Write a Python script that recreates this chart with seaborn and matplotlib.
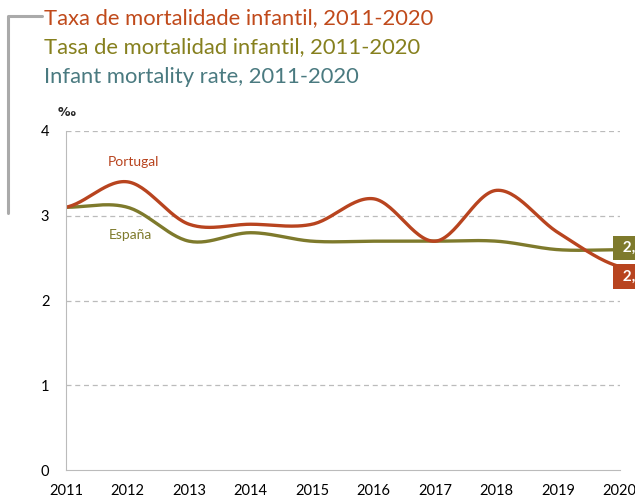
import numpy as np
import pandas as pd
import matplotlib.pyplot as plt
import seaborn as sns

years = [2011, 2012, 2013, 2014, 2015, 2016, 2017, 2018, 2019, 2020]
portugal = [3.1, 3.4, 2.9, 2.9, 2.9, 3.2, 2.7, 3.3, 2.8, 2.4]
espana = [3.1, 3.1, 2.7, 2.8, 2.7, 2.7, 2.7, 2.7, 2.6, 2.6]
last_labels = ["2,6", "2,4"]

titles = ["Taxa de mortalidade infantil, 2011-2020",
          "Tasa de mortalidad infantil, 2011-2020",
          "Infant mortality rate, 2011-2020"]
title_colors = ["#C04A1B", "#86801E", "#4A7A80"]

red = "#B8441F"
olive = "#7E7A2C"


def smooth(x, y, n=30):
    # catmull-rom style curve, like Excel's smoothed lines
    x = np.asarray(x, float)
    y = np.asarray(y, float)
    px = np.concatenate([[2 * x[0] - x[1]], x, [2 * x[-1] - x[-2]]])
    py = np.concatenate([[y[0]], y, [y[-1]]])
    xs, ys = [], []
    for i in range(1, len(px) - 2):
        t = np.linspace(0, 1, n, endpoint=False)
        for p, out in ((px, xs), (py, ys)):
            p0, p1, p2, p3 = p[i - 1], p[i], p[i + 1], p[i + 2]
            out.extend(0.5 * ((2 * p1) + (-p0 + p2) * t
                              + (2 * p0 - 5 * p1 + 4 * p2 - p3) * t ** 2
                              + (-p0 + 3 * p1 - 3 * p2 + p3) * t ** 3))
    xs.append(x[-1])
    ys.append(y[-1])
    return xs, ys


rows = []
for name, vals in (("Portugal", portugal), ("España", espana)):
    sx, sy = smooth(years, vals)
    rows.append(pd.DataFrame({"year": sx, "value": sy, "country": name}))
df = pd.concat(rows)

sns.set_style("white")
plt.rcParams["font.family"] = ["Lato", "DejaVu Sans"]

fig = plt.figure(figsize=(6.35, 4.98), dpi=100)
ax = fig.add_axes([0.104, 0.056, 0.872, 0.681])

sns.lineplot(data=df, x="year", y="value", hue="country",
             palette={"Portugal": red, "España": olive},
             hue_order=["España", "Portugal"],
             linewidth=2.4, legend=False, ax=ax, sort=False)

ax.set_xlim(2011, 2020)
ax.set_ylim(0, 4)
ax.set_yticks([0, 1, 2, 3, 4])
ax.set_xticks(years)
ax.set_xticklabels([str(y) for y in years])
ax.set_xlabel("")
ax.set_ylabel("")
for y in [1, 2, 3, 4]:
    ax.axhline(y, color="#BBBBBB", lw=0.9, ls=(0, (4, 3)), zorder=0)
for s in ["top", "right"]:
    ax.spines[s].set_visible(False)
ax.spines["left"].set_color("#BBBBBB")
ax.spines["bottom"].set_color("#BBBBBB")
ax.tick_params(axis="both", length=0, labelsize=10.5, colors="black")
ax.tick_params(axis="y", pad=12)
ax.tick_params(axis="x", pad=10)

ax.text(2012.1, 3.63, "Portugal", color=red, fontsize=10, ha="center", va="center")
ax.text(2012.05, 2.77, "España", color=olive, fontsize=10, ha="center", va="center")

# end-of-line value boxes (cut by the right edge, as in the source)
ax.text(2019.98, espana[-1] + 0.02, " " + last_labels[0] + "   ", color="white",
        fontsize=11, fontweight="bold", ha="left", va="center", clip_on=False,
        bbox=dict(boxstyle="square,pad=0.35", fc=olive, ec="none"))
ax.text(2019.98, portugal[-1] - 0.12, " " + last_labels[1] + "   ", color="white",
        fontsize=11, fontweight="bold", ha="left", va="center", clip_on=False,
        bbox=dict(boxstyle="square,pad=0.35", fc=red, ec="none"))

fig.text(58 / 635, 1 - 112 / 498, "‰", fontsize=9, ha="left", va="center",
         family=["DejaVu Sans"], fontweight="bold")

for i, (t, c) in enumerate(zip(titles, title_colors)):
    fig.text(44 / 635, 1 - (18 + 29.5 * i) / 498, t, color=c, fontsize=15.8,
             ha="left", va="center")

# gray bracket at top left
fig.add_artist(plt.Line2D([8 / 635, 8 / 635, 42 / 635],
                          [1 - 213 / 498, 1 - 16 / 498, 1 - 16 / 498],
                          color="#AAAAAA", lw=2.2, transform=fig.transFigure))

fig.savefig("out.png", dpi=100)
